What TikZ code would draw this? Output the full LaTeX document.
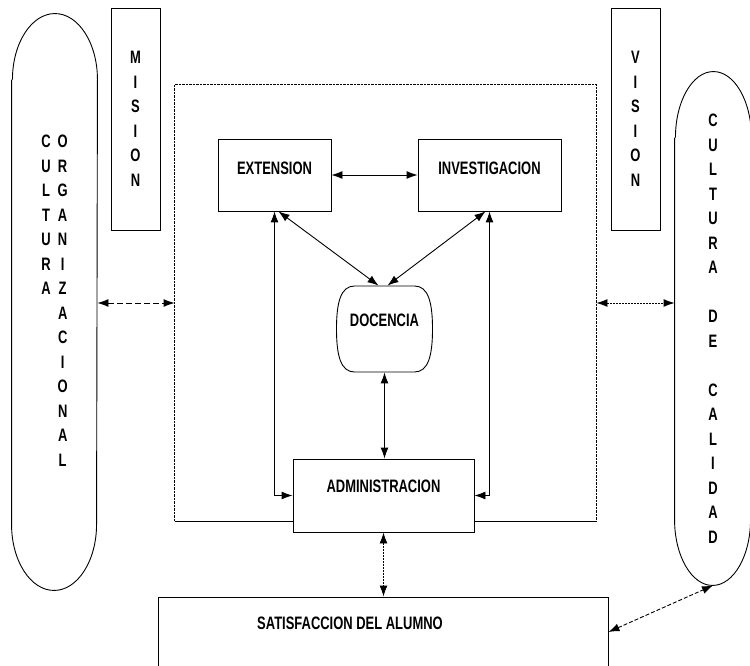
\documentclass[tikz,border=0pt]{standalone}
\usepackage{fontspec}
\usepackage{tikz}
\usetikzlibrary{arrows.meta,positioning}
\newfontfamily\narrowsans[FakeStretch=0.72]{Liberation Sans}

\begin{document}
\begin{tikzpicture}[x=1pt,y=1pt,line width=0.9pt,
    font=\narrowsans\bfseries\fontsize{18}{24.5}\selectfont,
    box/.style={draw,fill=white,inner sep=0pt},
    tube/.style={inner sep=0pt,align=center},
    both/.style={{Latex[length=11pt,width=8pt]}-{Latex[length=11pt,width=8pt]}},
    frameline/.style={dash pattern=on 2.5pt off 1pt},
    dotline/.style={dash pattern=on 1.5pt off 1.5pt},
    dashline/.style={dash pattern=on 6pt off 3pt}]
  \useasboundingbox (0,0) rectangle (750,665);

  % outer frame
  \node[minimum width=421pt,minimum height=436pt] (frame) at (385.5,362) {};
  \draw[frameline] (frame.south west) -- (frame.north west) -- (frame.north east) -- (frame.south east);
  \draw (frame.south west) -- (frame.south east);

  % the two cultures
  \node[tube,minimum width=85pt,minimum height=576pt] (cultorg) at (54.5,363)
    {\begin{tabular}{@{}c@{\hspace{7pt}}c@{}}C&O\\U&R\\L&G\\T&A\\U&N\\R&I\\A&Z\\&A\\&C\\&I\\&O\\&N\\&A\\&L\end{tabular}};
  \draw ([yshift=-66pt]cultorg.north west) -- ([yshift=66pt]cultorg.south west)
    arc[start angle=180,end angle=360,x radius=42.5pt,y radius=66pt]
    -- ([yshift=-66pt]cultorg.north east)
    arc[start angle=0,end angle=180,x radius=42.5pt,y radius=66pt];
  \node[tube,minimum width=76pt,minimum height=513pt] (cultcal) at (713,336.5)
    {C\\U\\L\\T\\U\\R\\A\\[24.5pt]D\\E\\[24.5pt]C\\A\\L\\I\\D\\A\\D};
  \draw ([yshift=-66pt]cultcal.north west) -- ([yshift=66pt]cultcal.south west)
    arc[start angle=180,end angle=360,x radius=38pt,y radius=66pt]
    -- ([yshift=-66pt]cultcal.north east)
    arc[start angle=0,end angle=180,x radius=38pt,y radius=66pt];

  \node[box,align=center,minimum width=49pt,minimum height=222pt] (mision) at (135.5,546) {M\\I\\S\\I\\O\\N};
  \node[box,align=center,minimum width=49pt,minimum height=222pt] (vision) at (635.5,546) {V\\I\\S\\I\\O\\N};

  % functions
  \node[box,minimum width=113pt,minimum height=72pt,text height=13pt,text depth=14pt] (ext) at (274.5,490) {EXTENSION};
  \node[box,minimum width=143pt,minimum height=72pt,text height=13pt,text depth=14pt] (inv) at (489.5,490) {INVESTIGACION};
  \node[inner sep=0pt,minimum width=95pt,minimum height=86pt,text height=13pt,text depth=18pt] (doc) at (384.5,336) {DOCENCIA};
  \draw[shift={(doc.center)}] (-30,43) -- (30,43) .. controls (44,43) and (48,26) .. (48,0)
    .. controls (48,-26) and (44,-43) .. (30,-43) -- (-30,-43)
    .. controls (-44,-43) and (-48,-26) .. (-48,0) .. controls (-48,26) and (-44,43) .. (-30,43) -- cycle;
  \node[box,minimum width=181pt,minimum height=73pt,text height=13pt,text depth=19pt] (admin) at (383.5,169.5) {ADMINISTRACION};
  \node[box,minimum width=450pt,minimum height=110pt] (satis) at (383,13) {};
  \node (satistxt) at (350,42) {SATISFACCION DEL ALUMNO};

  \draw[both] (ext) -- (inv);
  \draw[both] ([xshift=4pt]ext.south) -- ([xshift=-6pt]doc.north);
  \draw[both] ([xshift=-4pt]inv.south) -- ([xshift=3pt]doc.north);
  \draw[both] (ext.south) |- (admin.west);
  \draw[both] (inv.south) |- (admin.east);
  \draw[both] (doc.south) -- (doc.south |- admin.north);
  \draw[both,dotline] (admin.south) -- (admin.south |- satis.north);
  \draw[both,dashline] (frame.west -| cultorg.east) -- (frame.west);
  \draw[both,dotline] (frame.east) -- (frame.east -| cultcal.west);
  \draw[both,dash pattern=on 4pt off 2pt] ([yshift=20pt]satis.east) -- (cultcal.south);
\end{tikzpicture}
\end{document}
